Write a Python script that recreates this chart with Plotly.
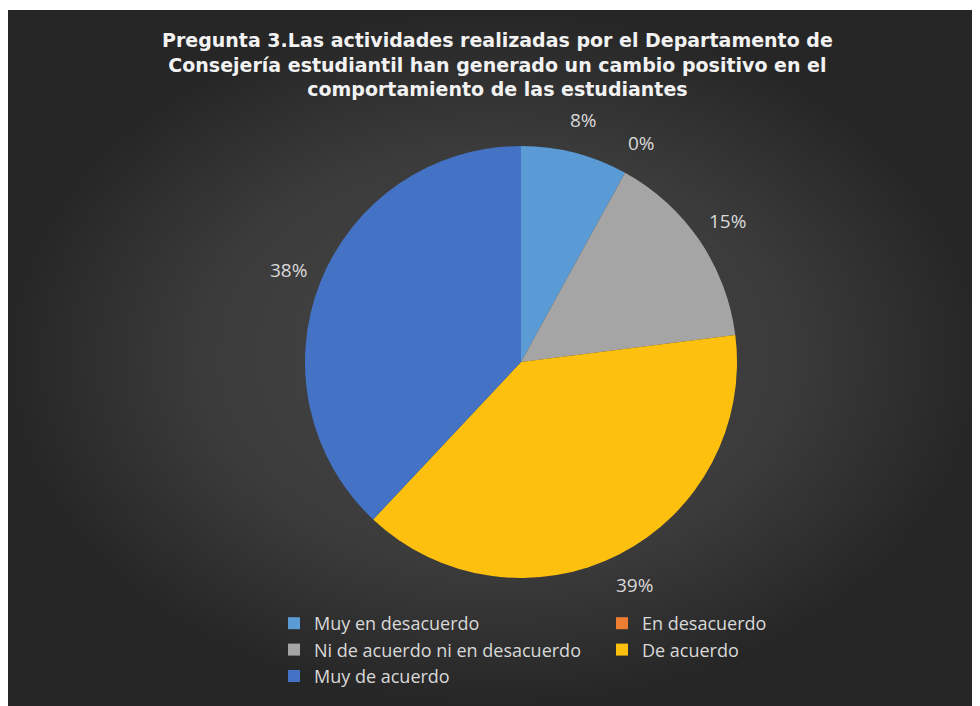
import numpy as np
import plotly.graph_objects as go

# Datos de la encuesta (porcentajes)
categorias = ["Muy en desacuerdo", "En desacuerdo", "Ni de acuerdo ni en desacuerdo",
              "De acuerdo", "Muy de acuerdo"]
valores = [8, 0, 15, 39, 38]
colores = ["#5B9BD5", "#ED7D31", "#A5A5A5", "#FDC00F", "#4472C4"]

titulo = ("Pregunta 3.Las actividades realizadas por el Departamento de<br>"
          "Consejería estudiantil han generado un cambio positivo en el<br>"
          "comportamiento de las estudiantes")

# la pagina ya deja 8 px de margen blanco arriba y a la izquierda
W, H = 972, 698
# centro y radio del pastel en pixeles
cx, cy, R = 513, 354, 216

fig = go.Figure()

# Fondo oscuro con degradado radial (estilo Excel)
fig.add_trace(go.Scatter(
    x=[0, W, W, 0, 0], y=[0, 0, H - 2, H - 2, 0],
    mode="lines", fill="toself", line=dict(width=0),
    fillgradient=dict(type="radial",
                      colorscale=[[0, "#474747"], [0.6, "#3b3b3b"], [1, "#262626"]]),
    hoverinfo="skip", showlegend=False,
))

fig.add_trace(go.Pie(
    labels=categorias, values=valores,
    marker=dict(colors=colores, line=dict(width=0)),
    sort=False, direction="clockwise", rotation=0,
    textinfo="none", hoverinfo="label+percent",
    domain=dict(x=[(cx - R) / W, (cx + R) / W], y=[(H - cy - R) / H, (H - cy + R) / H]),
))

# Etiquetas de porcentaje fuera del pastel
total = sum(valores)
acum = 0
r_lab = R + 34
for v in valores:
    mid = (acum + v / 2) / total * 2 * np.pi
    acum += v
    px = cx + r_lab * np.sin(mid)
    py = cy - r_lab * np.cos(mid)
    fig.add_annotation(
        x=px / W, y=(H - py) / H, xref="paper", yref="paper",
        xanchor="center", yanchor="middle",
        text=f"{round(v / total * 100)}%", showarrow=False,
        font=dict(size=19, color="#d9d9d9", family="Open Sans"),
    )

fig.add_annotation(
    x=489 / W, y=(H - 19) / H, xref="paper", yref="paper",
    xanchor="center", yanchor="top", text=f"<b>{titulo}</b>", showarrow=False,
    font=dict(size=19, color="#f2f2f2", family="DejaVu Sans"),
)

fig.update_layout(
    width=W, height=H,
    margin=dict(l=0, r=0, t=0, b=0),
    paper_bgcolor="white", plot_bgcolor="rgba(0,0,0,0)",
    xaxis=dict(range=[0, W], visible=False, fixedrange=True),
    yaxis=dict(range=[0, H], visible=False, fixedrange=True),
    font=dict(family="Open Sans", color="#d9d9d9"),
    showlegend=True,
    legend=dict(
        orientation="h", x=266 / W, y=(H - 597) / H, xanchor="left", yanchor="top",
        entrywidth=283, entrywidthmode="pixels",
        font=dict(size=18, color="#d9d9d9", family="Open Sans"),
        bgcolor="rgba(0,0,0,0)", traceorder="normal",
    ),
)

fig.write_html("out.html")
